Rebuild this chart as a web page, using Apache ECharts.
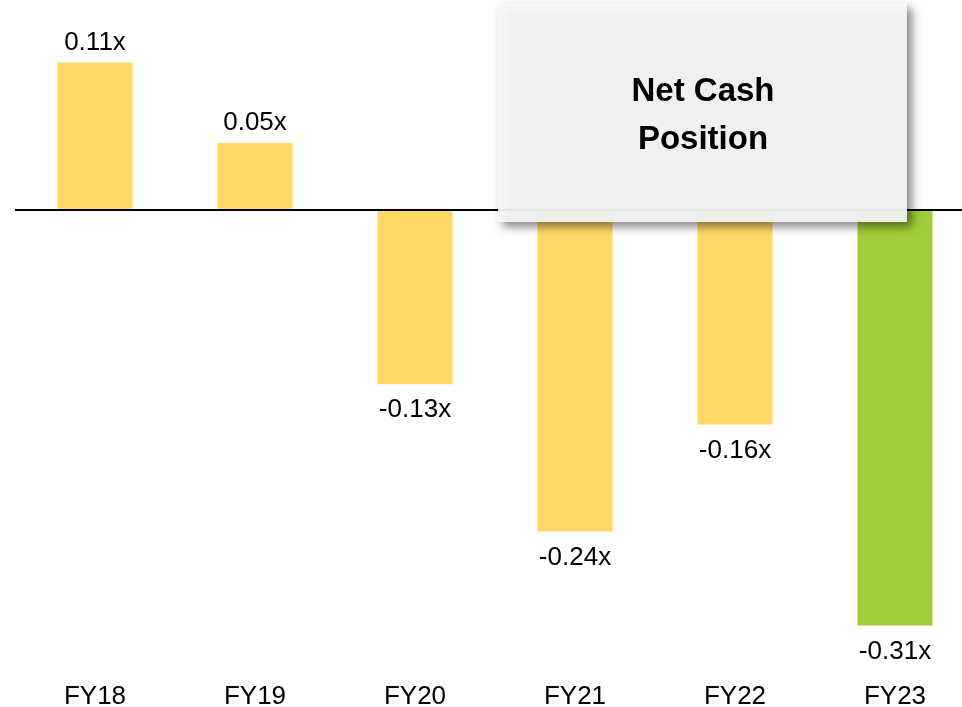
<!DOCTYPE html>
<html>
<head>
<meta charset="utf-8">
<script src="https://cdn.jsdelivr.net/npm/echarts@6/dist/echarts.min.js"></script>
<style>html,body{margin:0;padding:0;background:#fff}#c{width:962px;height:707px}</style>
</head>
<body>
<div id="c"></div>
<script>
const categories = ['FY18', 'FY19', 'FY20', 'FY21', 'FY22', 'FY23'];
const values = [0.11, 0.05, -0.13, -0.24, -0.16, -0.31];
const highlightIndex = 5;
const boxTitle = 'Net Cash\nPosition';

const FONT = '"Liberation Sans", Arial, sans-serif';
const chart = echarts.init(document.getElementById('c'), null, {renderer: 'canvas'});
chart.setOption({
  animation: false,
  backgroundColor: '#ffffff',
  grid: {left: 15, width: 960, top: 9, height: 670, outerBoundsMode: 'none', containLabel: false},
  xAxis: {
    type: 'category',
    data: categories,
    position: 'bottom',
    axisLine: {show: false},
    axisTick: {show: false},
    axisLabel: {color: '#000', fontSize: 26, fontFamily: FONT, margin: 5}
  },
  yAxis: {
    type: 'value', min: -0.35, max: 0.15, show: false,
    splitLine: {show: false}
  },
  series: [{
    type: 'bar',
    barWidth: 75,
    data: values.map((v, i) => ({
      value: v,
      itemStyle: {color: i === highlightIndex ? '#A2CD3A' : '#FFD966'},
      label: {position: v >= 0 ? 'top' : 'bottom', distance: v >= 0 ? 7 : 13}
    })),
    label: {
      show: true,
      color: '#000',
      fontSize: 26,
      fontFamily: FONT,
      formatter: p => p.value.toFixed(2) + 'x'
    },
    markLine: {
      silent: true,
      symbol: 'none',
      label: {show: false},
      lineStyle: {color: '#000', width: 2, type: 'solid'},
      data: [{yAxis: 0}]
    }
  }],
  graphic: [
    {
      type: 'rect', z: 100,
      shape: {x: 498, y: 3, width: 409, height: 219},
      style: {
        fill: 'rgba(247,247,247,0.93)',
        shadowBlur: 9, shadowOffsetX: 5, shadowOffsetY: 5,
        shadowColor: 'rgba(0,0,0,0.5)'
      }
    },
    {
      type: 'text', z: 101,
      x: 703, y: 116,
      style: {
        text: boxTitle,
        fill: '#000',
        font: 'bold 33px ' + FONT,
        align: 'center',
        verticalAlign: 'middle',
        lineHeight: 48
      }
    }
  ]
});
</script>
</body>
</html>
